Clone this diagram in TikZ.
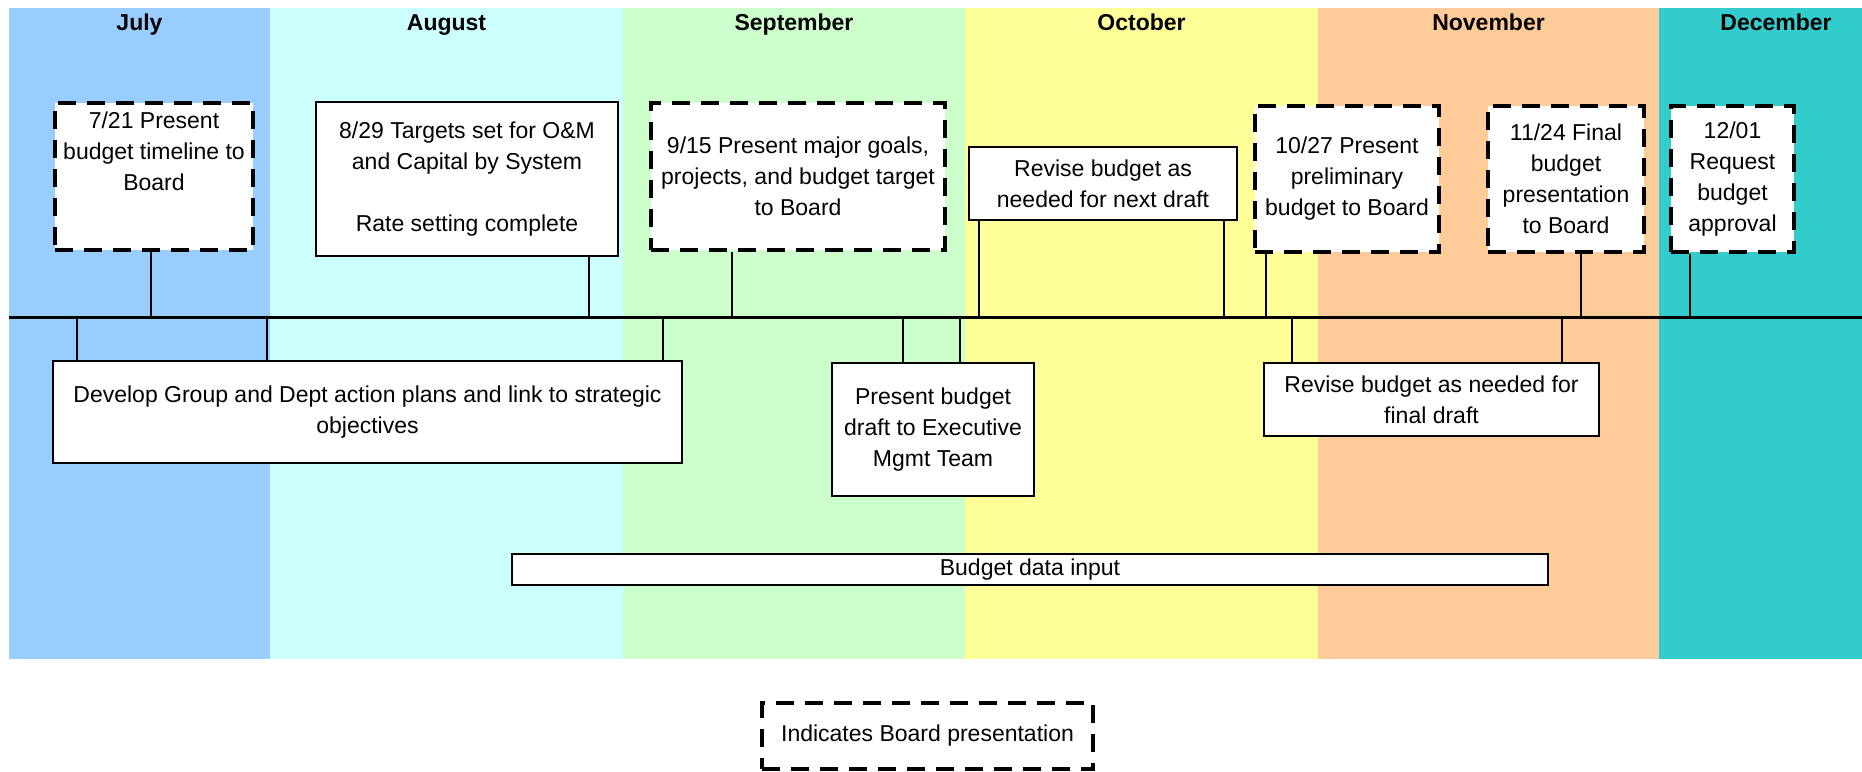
\documentclass[tikz,border=0pt]{standalone}
\usepackage{fontspec}
\setmainfont{Liberation Sans}
\definecolor{julbg}{HTML}{99CCFF}
\definecolor{augbg}{HTML}{CCFFFF}
\definecolor{sepbg}{HTML}{CCFFCC}
\definecolor{octbg}{HTML}{FFFF99}
\definecolor{novbg}{HTML}{FFCC99}
\definecolor{decbg}{HTML}{33CCCC}

\begin{document}
\begin{tikzpicture}[x=0.5pt,y=-0.5pt]
            \tikzstyle{every node}+=[inner sep=0pt, font=\fontsize{11.5}{15.5}\selectfont]
            \tikzstyle{month}=[font=\bfseries\fontsize{11.5}{15.5}\selectfont, text height=8.5pt, text depth=2.5pt]
            \tikzstyle{board}=[draw, fill=white, line width=1.6pt, dash pattern=on 9pt off 5.5pt, align=center]
            \tikzstyle{task}=[draw, fill=white, line width=0.9pt, align=center]
            \tikzstyle{link}=[line width=0.7pt]
            \useasboundingbox (0,0) rectangle (1862,771);
            % month bands
            \fill [julbg] (9,8) rectangle (270,659);
            \fill [augbg] (270,8) rectangle (623,659);
            \fill [sepbg] (623,8) rectangle (965,659);
            \fill [octbg] (965,8) rectangle (1318,659);
            \fill [novbg] (1318,8) rectangle (1659,659);
            \fill [decbg] (1659,8) rectangle (1862,659);
            \node [month] (mjul) at (139.5,24) {July};
            \node [month] (maug) at (446.5,24) {August};
            \node [month] (msep) at (794,24) {September};
            \node [month] (moct) at (1141.5,24) {October};
            \node [month] (mnov) at (1488.5,24) {November};
            \node [month] (mdec) at (1776,24) {December};
            % timeline
            \coordinate (tl) at (9,317);
            \coordinate (tr) at (1862,317);
            \draw [line width=1.5pt] (tl) -- (tr);
            % above the line
            \node [board, minimum width=99pt, minimum height=73.5pt] (b721) at (154,176.5) {7/21 Present\\budget timeline to\\Board\\[10pt]\mbox{}};
            \node [task, minimum width=151pt, minimum height=77pt] (b829) at (467,179) {8/29 Targets set for O\&M\\and Capital by System\\[15.5pt]Rate setting complete};
            \node [board, minimum width=147pt, minimum height=73.5pt] (b915) at (798,176.5) {9/15 Present major goals,\\projects, and budget target\\to Board};
            \node [task, minimum width=134pt, minimum height=36.5pt] (rnext) at (1103,183.5) {Revise budget as\\needed for next draft};
            \node [board, minimum width=92pt, minimum height=73pt] (b1027) at (1347,179) {10/27 Present\\preliminary\\budget to Board};
            \node [board, minimum width=78pt, minimum height=73pt] (b1124) at (1566,179) {11/24 Final\\budget\\presentation\\to Board};
            \node [board, minimum width=61.5pt, minimum height=73pt] (b1201) at (1732.5,179) {12/01\\Request\\budget\\approval};
            % below the line
            \node [task, minimum width=314.5pt, minimum height=51pt] (bdev) at (367.5,412) {Develop Group and Dept action plans and link to strategic\\objectives};
            \node [task, minimum width=101pt, minimum height=66.5pt] (bexec) at (933,429.5) {Present budget\\draft to Executive\\Mgmt Team};
            \node [task, minimum width=167.5pt, minimum height=36.5pt] (bfinal) at (1431.5,399.5) {Revise budget as needed for\\final draft};
            \node [task, minimum width=518pt, minimum height=15.5pt] (bdata) at (1030,569.5) {Budget data input};
            % legend
            \node [board, minimum width=165.5pt, minimum height=33pt] (legend) at (927.5,736) {Indicates Board presentation};
            % ticks
            \foreach \x/\n in {151/c1, 589/c2, 732/c3, 979/c4, 1224/c5, 1266/c6, 1581/c7, 1690/c8, 77/d1, 267/d2, 663/d3, 903/d4, 960/d5, 1292/d6, 1562/d7}
                \coordinate (\n) at (\x,317);
            \foreach \n/\b in {c1/b721, c2/b829, c3/b915, c4/rnext, c5/rnext, c6/b1027, c7/b1124, c8/b1201}
                \draw [link] (\n) -- (\n |- \b.south);
            \foreach \n/\b in {d1/bdev, d2/bdev, d3/bdev, d4/bexec, d5/bexec, d6/bfinal, d7/bfinal}
                \draw [link] (\n) -- (\n |- \b.north);
\end{tikzpicture}
\end{document}
